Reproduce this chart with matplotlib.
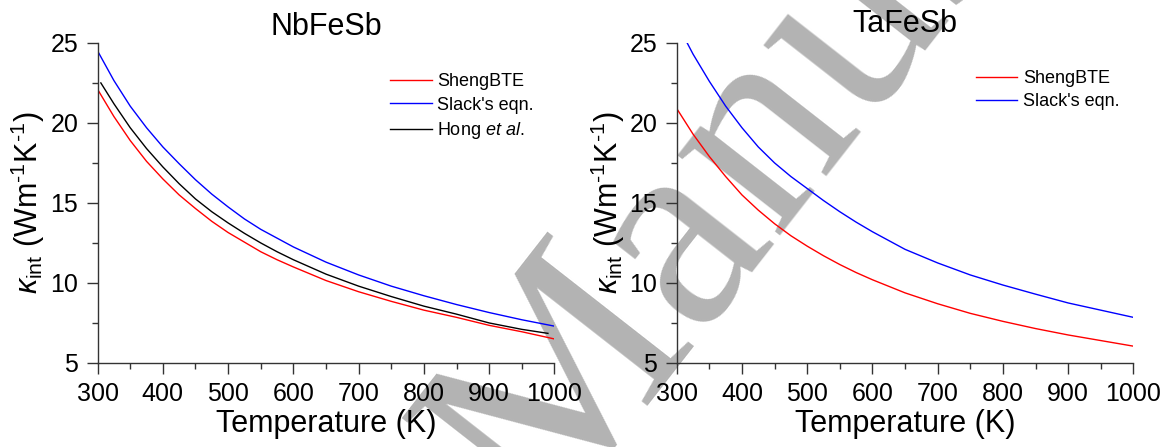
import matplotlib
matplotlib.use('Agg')
import matplotlib.pyplot as plt
from matplotlib.ticker import MultipleLocator

plt.rcParams['font.family'] = ['Liberation Sans', 'DejaVu Sans']
plt.rcParams['mathtext.fontset'] = 'custom'
plt.rcParams['mathtext.rm'] = 'Liberation Sans'
plt.rcParams['mathtext.it'] = 'Liberation Sans:italic'

# NbFeSb
T_nb = [300, 325, 350, 375, 400, 425, 450, 475, 500, 525, 550, 575, 600,
        650, 700, 750, 800, 850, 900, 950, 1000]
sheng_nb = [22.1, 20.4, 18.9, 17.6, 16.5, 15.5, 14.65, 13.85, 13.15, 12.55, 11.95, 11.45, 11.0,
            10.15, 9.45, 8.85, 8.3, 7.85, 7.35, 6.95, 6.5]
slack_nb = [24.5, 22.65, 21.05, 19.7, 18.5, 17.45, 16.45, 15.55, 14.75, 14.0, 13.35, 12.8, 12.25,
            11.3, 10.5, 9.8, 9.2, 8.65, 8.15, 7.7, 7.3]
T_hong = [305, 325, 350, 375, 400, 425, 450, 475, 500, 525, 550, 575, 600,
          650, 700, 750, 800, 850, 900, 950, 990]
hong_nb = [22.5, 21.2, 19.7, 18.4, 17.25, 16.2, 15.25, 14.45, 13.75, 13.1, 12.5, 11.95, 11.45,
           10.55, 9.8, 9.15, 8.55, 8.05, 7.5, 7.1, 6.85]

# TaFeSb
T_ta = [300, 325, 350, 375, 400, 425, 450, 475, 500, 525, 550, 575, 600,
        650, 700, 750, 800, 850, 900, 950, 1000]
sheng_ta = [20.9, 19.3, 17.9, 16.65, 15.5, 14.55, 13.7, 12.95, 12.3, 11.7, 11.15, 10.65, 10.2,
            9.38, 8.7, 8.1, 7.6, 7.15, 6.75, 6.4, 6.05]
T_slack_ta = [316, 325, 350, 375, 400, 425, 450, 475, 500, 525, 550, 575, 600,
              650, 700, 750, 800, 850, 900, 950, 1000]
slack_ta = [25.0, 24.3, 22.6, 21.05, 19.7, 18.5, 17.5, 16.65, 15.9, 15.15, 14.45, 13.8, 13.2,
            12.1, 11.25, 10.5, 9.87, 9.3, 8.75, 8.3, 7.85]

fig = plt.figure(figsize=(11.7, 4.47), dpi=100)

# watermark behind the plots
fig.text(0.4624, -0.1917, 'Manuscript', family='Liberation Serif', fontsize=205,
         color='#b3b3b3', rotation=52, rotation_mode='anchor',
         ha='left', va='baseline', zorder=-1)

ax1 = fig.add_axes([0.0834, 0.188, 0.3905, 0.716])
ax2 = fig.add_axes([0.5784, 0.188, 0.3903, 0.716])

ax1.plot(T_nb, sheng_nb, color='red', lw=1.0, label='ShengBTE')
ax1.plot(T_nb, slack_nb, color='blue', lw=1.0, label="Slack's eqn.")
ax1.plot(T_hong, hong_nb, color='black', lw=1.0, label=r'Hong $\it{et\ al}$.')

ax2.plot(T_ta, sheng_ta, color='red', lw=1.0, label='ShengBTE')
ax2.plot(T_slack_ta, slack_ta, color='blue', lw=1.0, label="Slack's eqn.")

titles = ['NbFeSb', 'TaFeSb']
legend_pos = [(0.64, 0.905), (0.655, 0.915)]
for ax, title, lpos in zip([ax1, ax2], titles, legend_pos):
    ax.set_facecolor('none')
    ax.set_xlim(300, 1000)
    ax.set_ylim(5, 25)
    ax.xaxis.set_major_locator(MultipleLocator(100))
    ax.xaxis.set_minor_locator(MultipleLocator(50))
    ax.yaxis.set_major_locator(MultipleLocator(5))
    ax.yaxis.set_minor_locator(MultipleLocator(2.5))
    for s in ['top', 'right']:
        ax.spines[s].set_visible(False)
    for s in ['left', 'bottom']:
        ax.spines[s].set_color('#333333')
        ax.spines[s].set_linewidth(1.0)
    ax.tick_params(which='major', direction='out', length=8, width=1, labelsize=18,
                   pad=6, color='#333333')
    ax.tick_params(which='minor', direction='out', length=4, width=1, color='#333333')
    ax.set_xlabel('Temperature (K)', fontsize=22, labelpad=2)
    ax.set_ylabel(r'$\kappa_{\rm int}$ (Wm$^{\text{-}1}$K$^{\text{-}1}$)', fontsize=22, labelpad=2)
    ax.set_title(title, fontsize=22, pad=6 if ax is ax1 else 8)
    ax.legend(loc='upper left', bbox_to_anchor=lpos,
              frameon=False, fontsize=13, handlelength=2.3, handletextpad=0.3,
              labelspacing=0.35, borderpad=0, borderaxespad=0)

fig.savefig('out.png', dpi=100)
